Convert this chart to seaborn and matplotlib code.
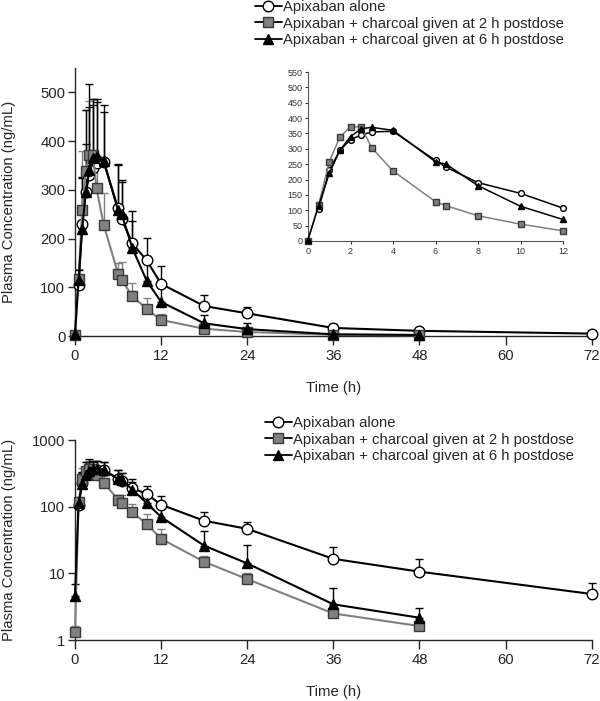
import matplotlib
matplotlib.use('Agg')
import matplotlib.pyplot as plt
from matplotlib.lines import Line2D
from matplotlib.ticker import NullLocator
import seaborn as sns
import pandas as pd
import numpy as np

nan = np.nan

# sampling times (h)
times = [0, 0.5, 1, 1.5, 2, 2.5, 3, 4, 6, 6.5, 8, 10, 12, 18, 24, 36, 48, 72]

# mean plasma concentrations (ng/mL) and upper SD
alone = [nan, 105, 230, 295, 330, 345, 355, 357, 262, 240, 190, 155, 107, 61.5, 46.5, 16.5, 10.6, 4.9]
alone_sd = [nan, 15, 97, 100, 140, 130, 125, 117, 90, 77, 66, 46, 36, 22, 13, 8, 6, 2.2]

charcoal_2h = [1.3, 118, 258, 338, 372, 372, 303, 228, 128, 115, 82, 55, 33, 14.9, 8.2, 2.5, 1.62, nan]
charcoal_2h_sd = [0.3, 20, 122, 125, 110, 114, 60, 65, 22, 36, 27, 23, 13, 3, 2, 0.5, 0.3, nan]

charcoal_6h = [4.6, 115, 220, 295, 340, 365, 370, 360, 258, 250, 180, 113, 70, 26, 14.1, 3.43, 2.16, nan]
charcoal_6h_sd = [2.3, 20, 105, 168, 177, 121, 116, 100, 93, 70, 55, 40, 30, 17.5, 12.5, 2.5, 0.9, nan]

labels = ['Apixaban alone',
          'Apixaban + charcoal given at 2 h postdose',
          'Apixaban + charcoal given at 6 h postdose']

GRAY = '#808080'
series = [
    dict(y=alone, sd=alone_sd, color='black', marker='o', mfc='white', mec='black', ms=7.6),
    dict(y=charcoal_2h, sd=charcoal_2h_sd, color=GRAY, marker='s', mfc=GRAY, mec='#3a3a3a', ms=6.8),
    dict(y=charcoal_6h, sd=charcoal_6h_sd, color='black', marker='^', mfc='black', mec='black', ms=7.8),
]

sns.set_style('ticks')
plt.rcParams['font.family'] = ['Liberation Sans', 'DejaVu Sans']
FS = 10.7


def draw(ax, tmax=None, scale=1.0, lw=1.5, errors=True):
    for s in series:
        df = pd.DataFrame({'time': times, 'conc': s['y'], 'sd': s['sd']})
        if tmax is not None:
            df = df[df['time'] <= tmax]
        df = df.dropna(subset=['conc'])
        if errors:
            ax.errorbar(df['time'], df['conc'], yerr=[np.zeros(len(df)), df['sd']],
                        fmt='none', ecolor=s['color'], elinewidth=1.0, capsize=3,
                        capthick=1.0, zorder=2, clip_on=False)
        sns.lineplot(data=df, x='time', y='conc', ax=ax, color=s['color'], lw=lw,
                     marker=s['marker'], markersize=s['ms'] * scale,
                     markerfacecolor=s['mfc'], markeredgecolor=s['mec'],
                     markeredgewidth=1.0, errorbar=None, clip_on=False, zorder=3)


def style_main(ax):
    ax.set_xlim(0, 72)
    ax.set_xticks([0, 12, 24, 36, 48, 60, 72])
    ax.set_xlabel('Time (h)', fontsize=FS, labelpad=13)
    ax.set_ylabel('Plasma Concentration (ng/mL)', fontsize=FS)
    ax.yaxis.set_label_coords(-0.114, 0.5)
    ax.tick_params(axis='x', length=6.5, width=1, pad=3, labelsize=FS)
    ax.tick_params(axis='y', length=5, width=1, pad=2, labelsize=FS)
    for sp in ['left', 'bottom']:
        ax.spines[sp].set_linewidth(1.0)
    sns.despine(ax=ax)


fig = plt.figure(figsize=(6, 7.01), dpi=100)

# top panel: linear scale
ax1 = fig.add_axes([0.125, 1 - 336 / 701, 0.861, (336 - 68) / 701])
draw(ax1)
ax1.set_ylim(0, 550)
ax1.set_yticks([0, 100, 200, 300, 400, 500])
style_main(ax1)

# inset: first 12 h
ax_in = fig.add_axes([308 / 600, 1 - 241 / 701, (563 - 308) / 600, (241 - 72) / 701])
draw(ax_in, tmax=12, scale=0.55, lw=1.1, errors=False)
ax_in.set_xlim(0, 12)
ax_in.set_ylim(0, 550)
ax_in.set_xticks(range(0, 13, 2))
ax_in.set_yticks(range(0, 551, 50))
ax_in.set_xlabel('')
ax_in.set_ylabel('')
ax_in.tick_params(labelsize=6.5, length=2, width=0.8, pad=2, colors='#333333')
for sp in ['left', 'bottom']:
    ax_in.spines[sp].set_linewidth(0.8)
    ax_in.spines[sp].set_color('#555555')
sns.despine(ax=ax_in)

# bottom panel: log scale
ax2 = fig.add_axes([0.125, 1 - 640 / 701, 0.861, (640 - 440) / 701])
ax2.set_yscale('log')
draw(ax2)
ax2.set_ylim(1, 1000)
ax2.set_yticks([1, 10, 100, 1000])
ax2.set_yticklabels(['1', '10', '100', '1000'])
ax2.yaxis.set_minor_locator(NullLocator())
style_main(ax2)

handles = [Line2D([0], [0], color='black', lw=1.3, marker=s['marker'], markersize=s['ms'],
                  markerfacecolor=s['mfc'], markeredgecolor=s['mec']) for s in series]
leg_kw = dict(loc='upper left', frameon=False, fontsize=FS, handlelength=1.8,
              handletextpad=0.1, labelspacing=0.18, borderpad=0, borderaxespad=0)
fig.legend(handles, labels, bbox_to_anchor=(255 / 600, 1.0), **leg_kw)
fig.legend(handles, labels, bbox_to_anchor=(265 / 600, 1 - 416 / 701), **leg_kw)

fig.savefig('out.png', dpi=100)
